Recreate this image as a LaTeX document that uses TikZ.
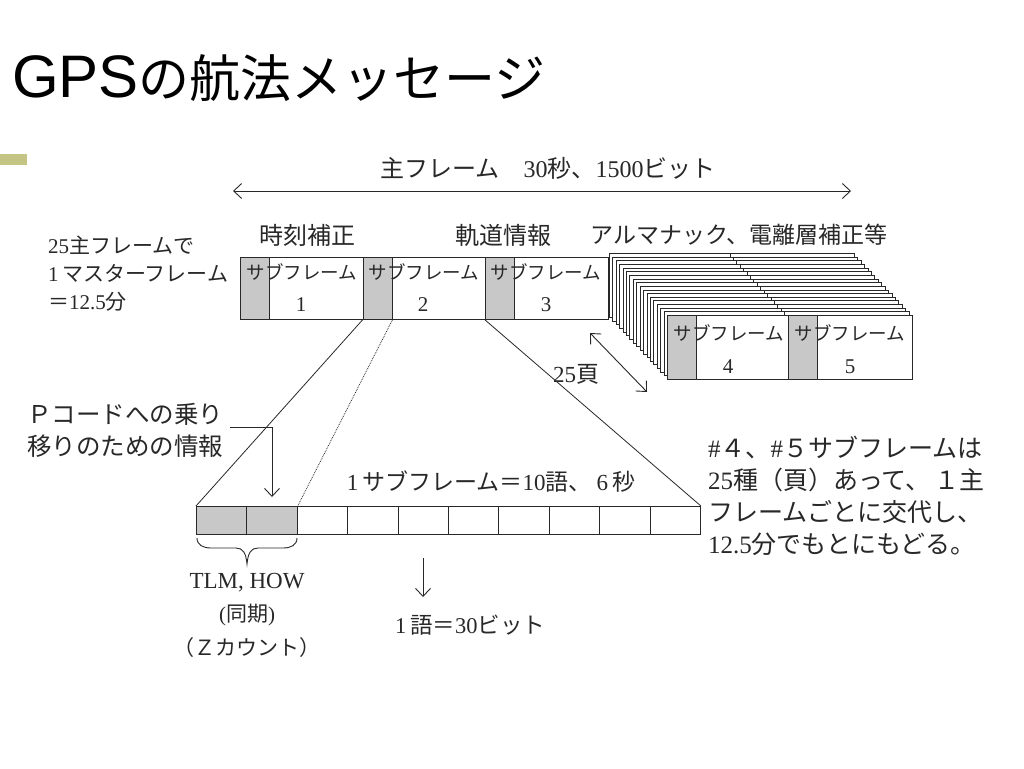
\documentclass[tikz,border=0pt]{standalone}
\usepackage{fontspec}
\setmainfont{Liberation Serif}
\newfontfamily\jp{Noto Sans CJK JP}
\newfontfamily\ttlatin{Liberation Sans}
\usetikzlibrary{arrows.meta}
\newcommand\fs[2]{\fontsize{#1}{#2}\selectfont}
\newcommand\dg[1]{{\rmfamily #1}}
\definecolor{olive}{RGB}{196,196,132}
\definecolor{ink}{RGB}{40,40,40}
\definecolor{shd}{RGB}{200,200,200}
\begin{document}
\begin{tikzpicture}[x=1pt,y=-1pt,
  sfbox/.style={draw=ink, line width=0.9pt, fill=white, minimum width=122.5pt, minimum height=62pt, inner sep=0pt, anchor=north west},
  shade/.style={draw=ink, line width=0.9pt, fill=shd, minimum width=29pt, minimum height=#1, inner sep=0pt, anchor=north west},
  pg/.style={draw=ink, line width=0.8pt, fill=white, minimum width=245pt, minimum height=64pt, inner sep=0pt, anchor=north west},
  word/.style={draw=ink, line width=0.9pt, minimum width=50.4pt, minimum height=28pt, inner sep=0pt, anchor=north west},
  lbl/.style={font=\jp\fs{24}{28}, text=ink, inner sep=0pt},
  sftxt/.style={font=\jp\fs{18.5}{20}, text=ink, inner sep=0pt},
  numtxt/.style={font=\rmfamily\fs{21}{22}, text=ink, inner sep=0pt},
  barb/.style={-{Straight Barb[length=8pt,width=15pt]}},
  dbarb/.style={{Straight Barb[length=8pt,width=15pt]}-{Straight Barb[length=8pt,width=15pt]}},
  conn/.style={line width=0.9pt, draw=ink}
]
\fill[white] (0,0) rectangle (1024,768);
\useasboundingbox (0,0) rectangle (1024,768);

% title and accent
\node[anchor=base west, inner sep=0pt] (title) at (12,97) {{\ttlatin\fs{60}{60}GPS}{\jp\fs{51}{51}の航法メッセージ}};
\fill[olive] (0,154) rectangle (27,165);

% main frame label and arrow
\node[lbl] (mainlbl) at (548,168) {主フレーム　\dg{30}秒、\dg{1500}ビット};
\coordinate (al) at (233,191);
\coordinate (ar) at (851,191);
\draw[conn, dbarb] (al) -- (ar);

% section labels
\node[lbl] (lclk) at (307,235) {時刻補正};
\node[lbl] (lorb) at (503,235) {軌道情報};
\node[lbl, font=\jp\fs{23}{26}] (lalm) at (739,235) {アルマナック、電離層補正等};

% left note
\node[font=\jp\fs{21}{28}, text=ink, align=left, anchor=west, inner sep=0pt] (master) at (48,274)
  {\dg{25}主フレームで\\\dg{1}\,マスターフレーム\\＝\dg{12.5}分};

% page stack (subframes 4,5)
\foreach \i in {0,...,17} {
  \node[pg] (p\i) at ({609+\i*3.41},{253+\i*3.65}) {};
  \draw[line width=0.8pt, draw=ink] ([xshift=121pt]p\i.north west) -- ([xshift=121pt]p\i.south west);
}
\node[shade=64pt] (sh4) at (p17.north west) {};
\node[shade=64pt] (sh5) at ([xshift=121pt]p17.north west) {};
\node[sftxt] (t4) at (729,333) {サブフレーム};
\node[numtxt] (n4) at (728,367) {4};
\node[sftxt] (t5) at (850,333) {サブフレーム};
\node[numtxt] (n5) at (850,367) {5};

% subframes 1-3
\node[sfbox] (sf1) at (240,257) {};
\node[sfbox] (sf2) at (362.5,257) {};
\node[sfbox] (sf3) at (485,257) {};
\node[shade=62pt] (sh1) at (sf1.north west) {};
\node[shade=62pt] (sh2) at (sf2.north west) {};
\node[shade=62pt] (sh3) at (sf3.north west) {};
\node[sftxt] (t1) at (302,272) {サブフレーム};
\node[numtxt] (n1) at (301,305) {1};
\node[sftxt] (t2) at (424,272) {サブフレーム};
\node[numtxt] (n2) at (423,305) {2};
\node[sftxt] (t3) at (546,272) {サブフレーム};
\node[numtxt] (n3) at (546,305) {3};

% 25 pages arrow
\coordinate (pga) at (590,333);
\coordinate (pgb) at (647,392);
\draw[conn, dbarb] (pga) -- (pgb);
\node[lbl, font=\jp\fs{23}{26}] (l25) at (576,374) {\dg{25}頁};

% word bar
\foreach \i in {1,...,10} {
  \node[word] (w\i) at ({196+(\i-1)*50.4},506) {};
}
\node[word, fill=shd] (w1s) at (w1.north west) {};
\node[word, fill=shd] (w2s) at (w2.north west) {};

% expansion lines
\draw[line width=0.8pt, draw=ink] (sf2.south west) -- (w1.north west);
\draw[line width=0.8pt, draw=ink, densely dotted] (sh2.south east) -- (w2.north east);
\draw[line width=0.8pt, draw=ink] (sf3.south west) -- (w10.north east);

\node[lbl, font=\jp\fs{23}{26}] (sflbl) at (491,482) {\dg{1}\,サブフレーム＝\dg{10}語、\ \dg{6}\,秒};

% P code note
\node[font=\jp\fs{24.5}{32}, text=ink, align=left, anchor=west, inner sep=0pt] (pcode) at (27,430)
  {Ｐコードへの乗り\\移りのための情報};
\coordinate (pa) at (230,427);
\coordinate (pb) at (272,427);
\coordinate (pc) at (272,497);
\draw[conn, barb] (pa) -- (pb) -- (pc);

% brace and TLM/HOW
\coordinate (bra) at (197,538);
\coordinate (bb1) at (211,548);
\coordinate (bb2) at (236,548);
\coordinate (btip) at (247,564);
\coordinate (bb3) at (258,548);
\coordinate (bb4) at (283,548);
\coordinate (brb) at (297,538);
\draw[conn] (bra) .. controls (197,545) and (203,548) .. (bb1) -- (bb2)
  .. controls (243,548) and (246,553) .. (btip)
  .. controls (248,553) and (251,548) .. (bb3) -- (bb4)
  .. controls (291,548) and (297,545) .. (brb);
\node[font=\rmfamily\fs{23}{26}, text=ink, inner sep=0pt] (tlm) at (247,583) {TLM, HOW};
\node[font=\jp\fs{21}{24}, text=ink, inner sep=0pt] (sync) at (247,615) {\dg{(}同期\dg{)}};
\node[font=\jp\fs{21}{24}, text=ink, inner sep=0pt] (zc) at (247,648) {（Ｚカウント）};

% word size
\coordinate (da) at (423,558);
\coordinate (db) at (423,597);
\draw[conn, barb] (da) -- (db);
\node[lbl, font=\jp\fs{22.5}{26}] (wlbl) at (470,625) {\dg{1}\,語＝\dg{30}ビット};

% right note
\node[font=\jp\fs{25}{32}, text=ink, align=left, anchor=west, inner sep=0pt] (note) at (708,496)
  {\dg{\#}４、\dg{\#}５サブフレームは\\\dg{25}種（頁）あって、\,１主\\フレームごとに交代し、\\\dg{12.5}分でもとにもどる。};
\end{tikzpicture}
\end{document}
